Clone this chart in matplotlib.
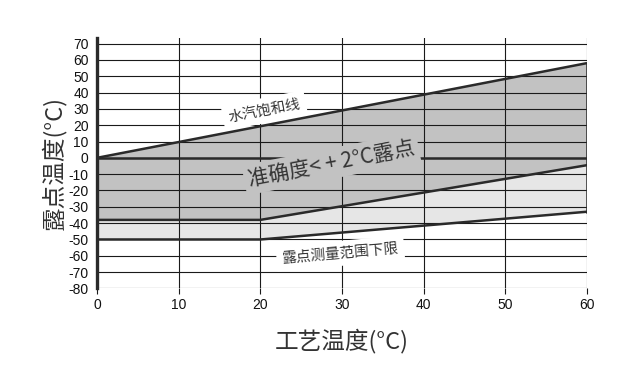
import matplotlib.pyplot as plt

plt.rcParams['font.family'] = ['Liberation Sans', 'Noto Sans CJK SC', 'DejaVu Sans']
plt.rcParams['axes.unicode_minus'] = False

# 水汽饱和线
sat_x = [0, 60]
sat_y = [0, 58]
# 准确度边界 (< +2°C 露点)
acc_x = [0, 20, 60]
acc_y = [-38, -38, -4.5]
# 露点测量范围下限
low_x = [0, 20, 60]
low_y = [-50, -50, -33]

x_ticks = [0, 10, 20, 30, 40, 50, 60]
y_ticks = list(range(-80, 71, 10))

line_color = '#2a2a2a'
text_color = '#333333'
cjk = ['Noto Sans CJK SC', 'DejaVu Sans']

fig = plt.figure(figsize=(6.24, 3.75), dpi=100)
ax = fig.add_axes([0.1554, 0.2307, 0.7853, 0.6685])

# 区域填充
ax.fill(sat_x + acc_x[::-1], sat_y + acc_y[::-1], color='#c2c2c2', lw=0, zorder=1)
ax.fill(acc_x + low_x[::-1], acc_y + low_y[::-1], color='#e6e6e6', lw=0, zorder=1)

# 边界线
ax.plot(sat_x, sat_y, color=line_color, lw=1.8, zorder=3, solid_capstyle='butt')
ax.plot(acc_x, acc_y, color=line_color, lw=1.8, zorder=3)
ax.plot(low_x, low_y, color=line_color, lw=1.8, zorder=3)
ax.plot([sat_x[0], sat_x[-1]], [0, 0], color=line_color, lw=1.8, zorder=3)
ax.plot([sat_x[-1], sat_x[-1]], [low_y[-1], sat_y[-1]], color=line_color, lw=1.8, zorder=3)

ax.set_xlim(0, 60)
ax.set_ylim(-80, 73.5)
ax.set_xticks(x_ticks)
ax.set_yticks(y_ticks)
ax.grid(True, color='#1a1a1a', lw=0.8)

for s in ['top', 'right', 'bottom']:
    ax.spines[s].set_visible(False)
ax.spines['left'].set_linewidth(2.4)
ax.spines['left'].set_color(line_color)
ax.spines['left'].set_zorder(4)

ax.tick_params(axis='x', length=4, width=0.8, color='#1a1a1a', labelsize=10, pad=3, labelcolor='#111111')
ax.tick_params(axis='y', length=0, labelsize=10, pad=6, labelcolor='#111111')

# 标注文字
ax.text(20.5, 29, '水汽饱和线', rotation=11, ha='center', va='center',
        fontsize=10.5, color=text_color, family=cjk, zorder=5,
        bbox=dict(facecolor='white', edgecolor='none', pad=4))
ax.text(28.7, -3.5, '准确度< + 2°C露点', rotation=11, ha='center', va='center',
        fontsize=15, color=text_color, family=cjk, zorder=5,
        bbox=dict(facecolor='#c2c2c2', edgecolor='none', pad=3))
ax.text(29.8, -58.5, '露点测量范围下限', rotation=5, ha='center', va='center',
        fontsize=10.5, color=text_color, family=cjk, zorder=5,
        bbox=dict(facecolor='white', edgecolor='none', pad=4))

ax.set_xlabel('工艺温度(°C)', fontsize=17, color=text_color, family=cjk, labelpad=12)
ax.set_ylabel('露点温度(°C)', fontsize=17, color=text_color, family=cjk, labelpad=2)

fig.savefig('out.png', dpi=100)
